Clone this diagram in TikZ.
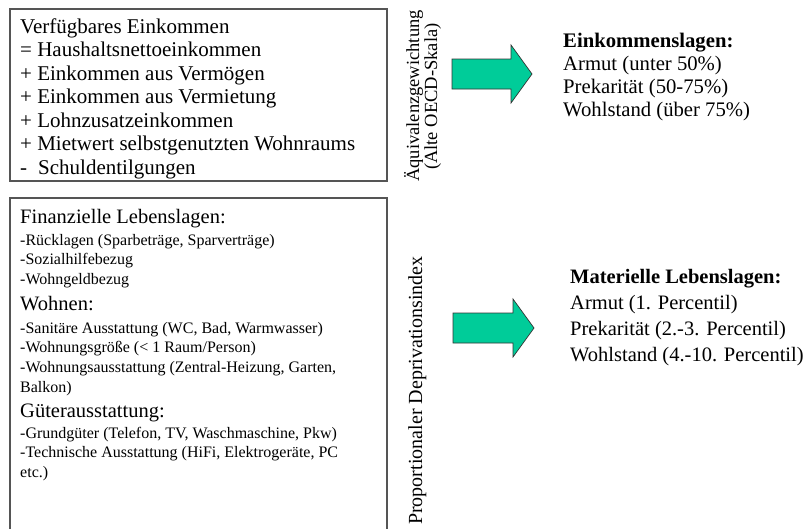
\documentclass[tikz,border=0pt]{standalone}
\usepackage{fontspec}
\setmainfont{Liberation Serif}
\definecolor{boxgray}{HTML}{555555}
\definecolor{arrowgreen}{HTML}{00CC99}
\begin{document}
\begin{tikzpicture}[x=1pt,y=-1pt,
  box/.style={draw=boxgray, line width=1.1pt},
  main/.style={font=\fontsize{20.5}{23.5}\selectfont, align=left, inner sep=0pt, anchor=base west},
  head/.style={font=\fontsize{20.5}{23.5}\selectfont, inner sep=0pt, anchor=base west},
  small/.style={font=\fontsize{16}{19.8}\selectfont, align=left, inner sep=0pt, anchor=base west},
  rot/.style={font=\fontsize{18.5}{18.5}\selectfont, inner sep=0pt, rotate=90, anchor=base west},
  blockarrow/.style={fill=arrowgreen, draw=black!80, line width=0.7pt, line join=miter}]
\useasboundingbox (0,0) rectangle (806,528);

% boxes
\draw[box] (10,9) rectangle (387,181);
\draw[box] (10,540) -- (10,198) -- (387,198) -- (387,540);

% top box text (base anchor = baseline of last line)
\node[main, font=\fontsize{21}{23.5}\selectfont] (inc) at (20,174) {Verfügbares Einkommen\\= Haushaltsnettoeinkommen\\+ Einkommen aus Vermögen\\+ Einkommen aus Vermietung\\+ Lohnzusatzeinkommen\\+ Mietwert selbstgenutzten Wohnraums\\-\hspace{11pt}Schuldentilgungen};

% bottom box text
\node[head] (fin) at (20,223) {Finanzielle Lebenslagen:};
\node[small] (finlist) at (20,284.6) {-Rücklagen (Sparbeträge, Sparverträge)\\-Sozialhilfebezug\\-Wohngeldbezug};
\node[head] (wohn) at (20,310) {Wohnen:};
\node[small] (wohnlist) at (20,392.4) {-Sanitäre Ausstattung (WC, Bad, Warmwasser)\\-Wohnungsgröße (< 1 Raum/Person)\\-Wohnungsausstattung (Zentral-Heizung, Garten,\\Balkon)};
\node[head] (gut) at (20,417) {Güterausstattung:};
\node[small] (gutlist) at (20,477.6) {-Grundgüter (Telefon, TV, Waschmaschine, Pkw)\\-Technische Ausstattung (HiFi, Elektrogeräte, PC\\etc.)};

% rotated labels
\node[rot] (aeq1) at (419,182) {Äquivalenzgewichtung};
\node[rot] (aeq2) at (437,170) {(Alte OECD-Skala)};
\node[rot, font=\fontsize{20}{20}\selectfont] (pdi) at (422,525) {Proportionaler Deprivationsindex};

% block arrows
\draw[blockarrow] (452,59) -- (511,59) -- (511,45) -- (532,74) -- (511,103) -- (511,89) -- (452,89) -- cycle;
\draw[blockarrow] (453,313) -- (513,313) -- (513,299) -- (534,328) -- (513,357) -- (513,343) -- (453,343) -- cycle;

% result texts
\node[main, font=\fontsize{20.7}{23.3}\selectfont] (einl) at (563,116.9) {\textbf{Einkommenslagen:}\\Armut (unter 50\%)\\Prekarität (50-75\%)\\Wohlstand (über 75\%)};
\node[main, font=\fontsize{20.5}{26.3}\selectfont] (matl) at (570,361.9) {\textbf{Materielle Lebenslagen:}\\Armut (1. Percentil)\\Prekarität (2.-3. Percentil)\\Wohlstand (4.-10. Percentil)};
\end{tikzpicture}
\end{document}
